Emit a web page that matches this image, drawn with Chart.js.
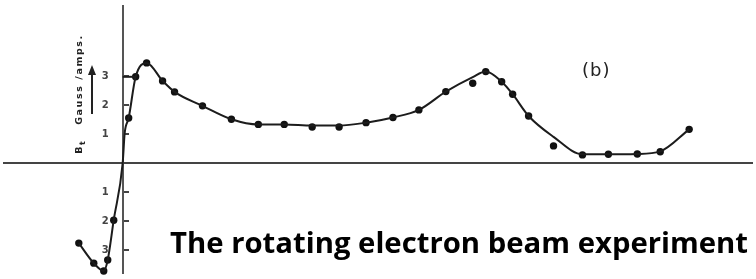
<!DOCTYPE html>
<html>
<head>
<meta charset="utf-8">
<script src="https://cdn.jsdelivr.net/npm/chart.js@4.4.1/dist/chart.umd.min.js"></script>
<style>
  body { margin: 0; background: #fff; }
  #wrap { position: relative; width: 756px; height: 279px; overflow: hidden; }
  #title { position: absolute; left: 170px; top: 222px; font-family: "Open Sans", sans-serif;
           font-weight: 700; font-size: 29.3px; color: #000; white-space: nowrap; }
  #tag { position: absolute; left: 582px; top: 59px; font-family: "DejaVu Sans", sans-serif;
         font-size: 18px; color: #222; letter-spacing: 1px; }
  #ylab { position: absolute; left: 80px; top: 94px; transform: translate(-50%, -50%) rotate(-90deg);
          font-family: "DejaVu Sans", sans-serif; font-weight: 700; font-size: 9.5px; color: #222;
          letter-spacing: 1.6px; white-space: nowrap; }
  #arrow { position: absolute; left: 86px; top: 64px; }
</style>
</head>
<body>
<div id="wrap">
  <canvas id="fig"></canvas>
  <div id="ylab">B<sub>t</sub>&nbsp;&nbsp;&nbsp;Gauss /amps.</div>
  <svg id="arrow" width="12" height="52"><line x1="6" y1="8" x2="6" y2="50" stroke="#222" stroke-width="2"/><polygon points="6,1 2,11 10,11" fill="#222"/></svg>
  <div id="tag">(b)</div>
  <div id="title">The rotating electron beam experiment</div>
</div>
<script>
// measured points
var pointX = [-2.2, -1.45, -0.95, -0.75, -0.45, 0.3, 0.65, 1.2, 2.0, 2.6, 4.0, 5.45, 6.8, 8.1, 9.5, 10.85,
              12.2, 13.55, 14.85, 16.2, 17.55, 18.2, 19.0, 19.55, 20.35, 21.6, 23.05, 24.35, 25.8, 26.95, 28.4];
var pointY = [-2.76, -3.45, -3.72, -3.34, -1.97, 1.55, 2.97, 3.45, 2.83, 2.45, 1.97, 1.51, 1.33, 1.33, 1.24, 1.24,
              1.39, 1.57, 1.83, 2.46, 2.75, 3.15, 2.80, 2.37, 1.62, 0.59, 0.28, 0.30, 0.31, 0.39, 1.16];
// drawn curve
var curveX = [-2.2, -1.45, -0.95, -0.75, -0.45, 0, 0.1, 0.3, 0.65, 1.2, 2.0, 2.6, 4.0, 5.45, 6.8, 8.1, 9.5, 10.85,
              12.2, 13.55, 14.85, 16.2, 17.55, 18.2, 19.0, 19.55, 20.35, 21.6, 23.05, 24.35, 25.8, 26.95, 28.4];
var curveY = [-2.76, -3.45, -3.72, -3.34, -1.97, 0, 1.03, 1.55, 2.97, 3.45, 2.83, 2.45, 1.97, 1.51, 1.33, 1.33, 1.29, 1.29,
              1.39, 1.57, 1.83, 2.46, 2.96, 3.15, 2.80, 2.37, 1.62, 0.90, 0.30, 0.30, 0.31, 0.40, 1.16];
// short flat piece at 3
var stepX = [0, 0.65];
var stepY = [2.97, 2.97];
var yTicks = [-3, -2, -1, 1, 2, 3];

function pairs(xs, ys) {
    var out = [];
    for (var i = 0; i < xs.length; i++) {
        out.push({x: xs[i], y: ys[i]});
    }
    return out;
}
function setTicks(scale) {
    scale.ticks = yTicks.map(function (v) { return {value: v}; });
}

var cv = document.getElementById('fig');
cv.width = 756;
cv.height = 279;

var ctx = cv.getContext('2d');
var fig = new Chart(ctx, {
    type: 'scatter',
    data: {
        datasets: [{
            data: pairs(curveX, curveY),
            showLine: true,
            borderColor: '#1c1c1c',
            borderWidth: 2,
            pointRadius: 0,
            clip: false,
            cubicInterpolationMode: 'monotone'
        }, {
            data: pairs(stepX, stepY),
            showLine: true,
            borderColor: '#1c1c1c',
            borderWidth: 2,
            pointRadius: 0
        }, {
            data: pairs(pointX, pointY),
            showLine: false,
            pointRadius: 3.7,
            clip: false,
            backgroundColor: '#111',
            borderColor: '#111',
            borderWidth: 0
        }]
    },
    options: {
        responsive: false,
        animation: false,
        layout: { padding: { top: 5, bottom: 5, left: 0, right: 0 } },
        plugins: { legend: { display: false }, tooltip: { enabled: false } },
        scales: {
            x: {
                type: 'linear',
                min: -5.95,
                max: 31.55,
                position: { y: 0 },
                ticks: { display: false },
                grid: { display: false },
                border: { display: true, color: '#444', width: 2 }
            },
            y: {
                type: 'linear',
                min: -3.79,
                max: 5.41,
                position: { x: 0 },
                afterBuildTicks: setTicks,
                ticks: { display: false },
                grid: { display: true, drawOnChartArea: false, drawTicks: true, tickLength: -7, color: '#444', lineWidth: 2 },
                border: { display: true, color: '#555', width: 2 }
            },
            yl: {
                type: 'linear',
                axis: 'y',
                min: -3.79,
                max: 5.41,
                position: { x: -0.7 },
                afterBuildTicks: setTicks,
                ticks: {
                    padding: 0,
                    color: '#444',
                    font: { family: 'DejaVu Sans', size: 10, weight: 'bold' },
                    callback: function (v) { return Math.abs(v); }
                },
                grid: { display: false },
                border: { display: false }
            }
        }
    }
});
</script>
</body>
</html>
